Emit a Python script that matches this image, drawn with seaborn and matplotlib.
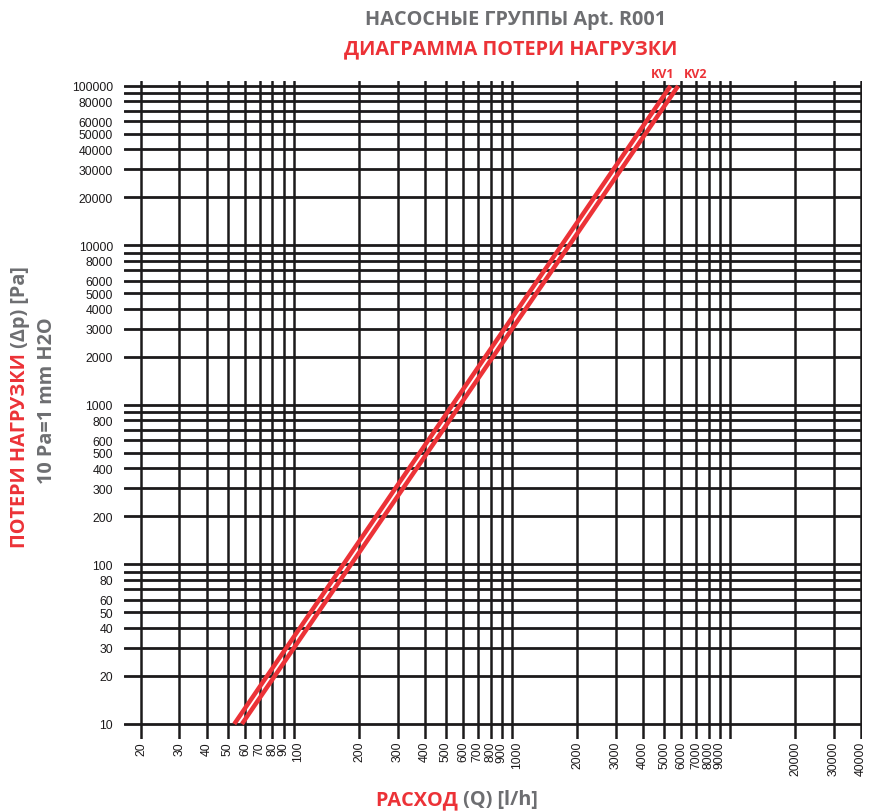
import numpy as np
import pandas as pd
import matplotlib
matplotlib.use('Agg')
from matplotlib import pyplot as plt
from matplotlib import transforms
from matplotlib.ticker import NullLocator
import seaborn as sns

# Grid lines of the log-log chart
x_grid = [20, 30, 40, 50, 60, 70, 80, 90, 100,
          200, 300, 400, 500, 600, 700, 800, 900, 1000,
          2000, 3000, 4000, 5000, 6000, 7000, 8000, 9000, 10000,
          20000, 30000, 40000]
y_grid = [10, 20, 30, 40, 50, 60, 70, 80, 90, 100,
          200, 300, 400, 500, 600, 700, 800, 900, 1000,
          2000, 3000, 4000, 5000, 6000, 7000, 8000, 9000, 10000,
          20000, 30000, 40000, 50000, 60000, 70000, 80000, 90000, 100000]

# Tick labels
x_ticks = [20, 30, 40, 50, 60, 70, 80, 90, 100,
           200, 300, 400, 500, 600, 700, 800, 900, 1000,
           2000, 3000, 4000, 5000, 6000, 7000, 8000, 9000,
           20000, 30000, 40000]
y_ticks = [10, 20, 30, 40, 50, 60, 80, 100,
           200, 300, 400, 500, 600, 800, 1000,
           2000, 3000, 4000, 5000, 6000, 8000, 10000,
           20000, 30000, 40000, 50000, 60000, 80000, 100000]

# Pressure drop curves (Q in l/h, dp in Pa)
kv_names = ['KV1', 'KV2']
dp_points = [10, 100000]
q_kv1 = [53.5, 5350]
q_kv2 = [58, 5800]

RED = '#ec3237'
GRAY = '#6d6e71'
INK = '#1c1a1b'
FS = 14.3
TICK_FS = 8.8

sns.set_style('white')
plt.rcParams['font.family'] = ['Open Sans', 'DejaVu Sans']

W, H = 870, 812
fig = plt.figure(figsize=(W / 100, H / 100), dpi=100)


def px(x, y):
    return x / W, 1 - y / H


left, right, top, bottom = 124, 862, 82, 740
ax = fig.add_axes([left / W, 1 - bottom / H, (right - left) / W, (bottom - top) / H])
ax.set_xscale('log')
ax.set_yscale('log')
ax.set_xlim(16.7, 40400)
ax.set_ylim(8.05, 107400)

for xv in x_grid:
    ax.axvline(xv, color=INK, lw=1.8, zorder=1)
for yv in y_grid:
    ax.axhline(yv, color=INK, lw=2.0, zorder=1)

df = pd.DataFrame({
    'Q': q_kv1 + q_kv2,
    'dp': dp_points * 2,
    'kv': [kv_names[0]] * 2 + [kv_names[1]] * 2,
})
sns.lineplot(data=df, x='Q', y='dp', hue='kv', palette=[RED, RED],
             lw=3.2, legend=False, ax=ax, zorder=3, solid_capstyle='butt')

ax.annotate(kv_names[0], xy=(q_kv1[1], dp_points[1]), xytext=(-8, 6),
            textcoords='offset pixels', ha='center', va='bottom',
            color=RED, fontsize=9, fontweight='bold', annotation_clip=False)
ax.annotate(kv_names[1], xy=(q_kv2[1], dp_points[1]), xytext=(17, 6),
            textcoords='offset pixels', ha='center', va='bottom',
            color=RED, fontsize=9, fontweight='bold', annotation_clip=False)

for s in ax.spines.values():
    s.set_visible(False)

# x tick labels drawn by hand so crowded ones can be nudged
ax.set_xticks([])
ax.xaxis.set_minor_locator(NullLocator())
base = ax.get_xaxis_transform()
for v in x_ticks:
    dx = 5 if v in (100, 1000) else 0
    tr = base + transforms.ScaledTranslation(dx / 100, -2 / 100, fig.dpi_scale_trans)
    ax.text(v, 0, str(v), transform=tr, rotation=90, ha='center', va='top',
            fontsize=TICK_FS, family='Liberation Sans', color=INK)

ax.set_yticks(y_ticks)
ax.set_yticklabels([str(v) for v in y_ticks], fontsize=TICK_FS,
                   family='Liberation Sans', color=INK)
ax.yaxis.set_minor_locator(NullLocator())
ax.tick_params(axis='y', length=0, pad=8)
ax.set_xlabel('')
ax.set_ylabel('')

# Titles
fig.text(*px(516, 20), 'НАСОСНЫЕ ГРУППЫ Apt. R001', ha='center', va='center',
         color=GRAY, fontsize=FS, fontweight='bold')
fig.text(*px(511, 49), 'ДИАГРАММА ПОТЕРИ НАГРУЗКИ', ha='center', va='center',
         color=RED, fontsize=FS, fontweight='bold')

# Two-coloured axis labels
fig.canvas.draw()
renderer = fig.canvas.get_renderer()

t_red = fig.text(0, 0, 'РАСХОД', color=RED, fontsize=FS, fontweight='bold',
                 ha='left', va='center')
t_gray = fig.text(0, 0, ' (Q) [l/h]', color=GRAY, fontsize=FS, fontweight='bold',
                  ha='left', va='center')
w1 = t_red.get_window_extent(renderer).width
w2 = t_gray.get_window_extent(renderer).width
x0 = 457 - (w1 + w2) / 2
t_red.set_position(px(x0, 800))
t_gray.set_position(px(x0 + w1, 800))

y_red = fig.text(0, 0, 'ПОТЕРИ НАГРУЗКИ', color=RED, fontsize=FS, fontweight='bold',
                 rotation=90, ha='center', va='bottom')
y_gray = fig.text(0, 0, ' (Δp) [Pa]', color=GRAY, fontsize=FS, fontweight='bold',
                  rotation=90, ha='center', va='bottom')
h1 = y_red.get_window_extent(renderer).height
h2 = y_gray.get_window_extent(renderer).height
y0 = 407 + (h1 + h2) / 2
y_red.set_position(px(20, y0))
y_gray.set_position(px(20, y0 - h1))

fig.text(*px(47, 401), '10 Pa=1 mm H2O', color=GRAY, fontsize=FS, fontweight='bold',
         rotation=90, ha='center', va='center')

fig.savefig('out.png', dpi=100)
